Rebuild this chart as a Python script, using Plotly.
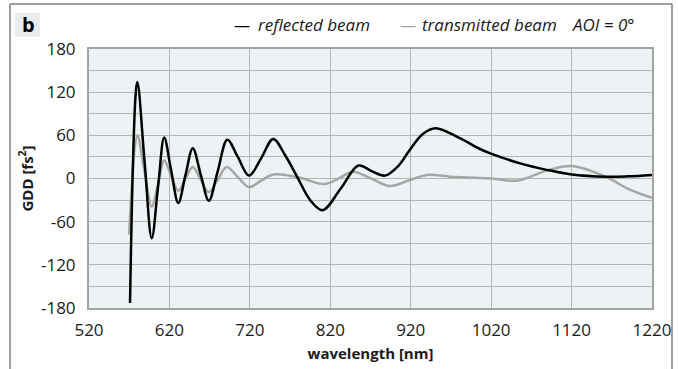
import plotly.graph_objects as go

# ---- data ----
refl_wl = [571, 580, 589, 598, 606, 613.5, 622, 631, 640, 649, 659, 669, 680, 692, 705, 719,
           734, 749, 764, 779, 795, 810.5, 833, 855, 872, 888, 905, 919, 935, 951, 981, 1006,
           1019, 1056, 1089, 1118, 1164, 1190, 1220]
refl_gdd = [-173, 134, 25, -83, -10, 57, 12, -34, 5, 42, 5, -31, 10, 54, 30, 4,
            28, 55, 32, 2, -30, -44, -14, 18, 10, 4, 18, 40, 62, 70, 56, 41,
            35, 21, 12, 6, 2.5, 3, 5]

trans_wl = [570, 580, 589, 598, 606, 613.5, 622, 631, 640, 649, 659, 669, 680, 691, 705, 719,
            734, 749, 782, 813, 832, 848, 871, 894, 917, 940, 969, 990, 1018, 1052, 1089, 1120,
            1164, 1189, 1220]
trans_gdd = [-78, 60, 10, -39, -7, 25, 4, -17, 0, 16, -2, -19, -2, 16, 2, -12,
             -3, 5.5, 1, -7.7, 1, 9.5, 0, -10.4, -3, 5, 2.5, 1.5, 0.3, -3, 11, 17.4,
             1.6, -13.6, -27]

x_ticks = [520, 620, 720, 820, 920, 1020, 1120, 1220]
y_ticks = [-180, -120, -60, 0, 60, 120, 180]

W, H = 678, 369
L, R, T, B = 89, 652, 49, 308


def px(xp):
    return (xp - L) / (R - L)


def py(yp):
    return (B - yp) / (B - T)


FONT = "Open Sans"

fig = go.Figure()
fig.add_trace(go.Scatter(x=trans_wl, y=trans_gdd, mode="lines", name="transmitted beam",
                         line=dict(color="#a6a6a6", width=2.5, shape="spline", smoothing=1.0)))
fig.add_trace(go.Scatter(x=refl_wl, y=refl_gdd, mode="lines", name="reflected beam",
                         line=dict(color="#000000", width=2.5, shape="spline", smoothing=1.0)))

grid = "#b4b4b4"
fig.update_layout(
    width=W, height=H,
    margin=dict(l=L, r=W - R, t=T, b=H - B),
    paper_bgcolor="white",
    plot_bgcolor="#edf2f5",
    showlegend=False,
    font=dict(family=FONT, color="#1a1a1a", size=17),
    xaxis=dict(range=[520, 1220], tickvals=x_ticks, ticktext=[str(v) for v in x_ticks],
               showgrid=True, gridcolor=grid, gridwidth=1, zeroline=False,
               showline=True, linecolor="#a3a3a3", linewidth=2, mirror=True,
               ticks="", ticklabelstandoff=6, automargin=False,
               title=dict(text="<b>wavelength [nm]</b>", font=dict(size=15), standoff=8)),
    yaxis=dict(range=[-180, 180], tickvals=y_ticks, ticktext=[str(v) for v in y_ticks],
               showgrid=True, gridcolor=grid, gridwidth=1, zeroline=False,
               minor=dict(dtick=30, tick0=0, showgrid=True, gridcolor=grid, gridwidth=1, ticks=""),
               showline=True, linecolor="#a3a3a3", linewidth=2, mirror=True,
               ticks="", ticklabelstandoff=8, automargin=False,
               title=dict(text="<b>GDD [fs<sup>2</sup>]</b>", font=dict(size=15), standoff=4)),
)

# outer frame (left, top, right)
frame = dict(color="#808080", width=1.5)
fig.add_shape(type="line", xref="paper", yref="paper", x0=px(10), x1=px(10), y0=py(369), y1=py(4), line=frame)
fig.add_shape(type="line", xref="paper", yref="paper", x0=px(10), x1=px(672), y0=py(4), y1=py(4), line=frame)
fig.add_shape(type="line", xref="paper", yref="paper", x0=px(672), x1=px(672), y0=py(4), y1=py(369), line=frame)

# panel label
fig.add_shape(type="rect", xref="paper", yref="paper", x0=px(15), x1=px(40), y0=py(37), y1=py(13),
              fillcolor="#e9edf0", line=dict(width=0))
fig.add_annotation(xref="paper", yref="paper", x=px(28), y=py(25), text="<b>b</b>",
                   showarrow=False, font=dict(size=20, color="#000"), xanchor="center", yanchor="middle")

# legend as text
ly = py(25)
fig.add_annotation(xref="paper", yref="paper", x=px(232), y=ly, xanchor="left", yanchor="middle",
                   showarrow=False, text="<span style='color:#000'>—</span>",
                   font=dict(size=16))
fig.add_annotation(xref="paper", yref="paper", x=px(256), y=ly, xanchor="left", yanchor="middle",
                   showarrow=False, text="<i>reflected beam</i>", font=dict(size=17, color="#1a1a1a"))
fig.add_annotation(xref="paper", yref="paper", x=px(398), y=ly, xanchor="left", yanchor="middle",
                   showarrow=False, text="<span style='color:#a6a6a6'>—</span>",
                   font=dict(size=16))
fig.add_annotation(xref="paper", yref="paper", x=px(420), y=ly, xanchor="left", yanchor="middle",
                   showarrow=False, text="<i>transmitted beam</i>", font=dict(size=17, color="#1a1a1a"))
fig.add_annotation(xref="paper", yref="paper", x=px(570), y=ly, xanchor="left", yanchor="middle",
                   showarrow=False, text="<i>AOI = 0°</i>", font=dict(size=17, color="#1a1a1a"))

fig.write_html(
    "out.html",
    config={"displayModeBar": False, "responsive": False},
    post_script="document.documentElement.style.overflow='hidden';document.body.style.margin='0';document.body.style.overflow='hidden';",
)
